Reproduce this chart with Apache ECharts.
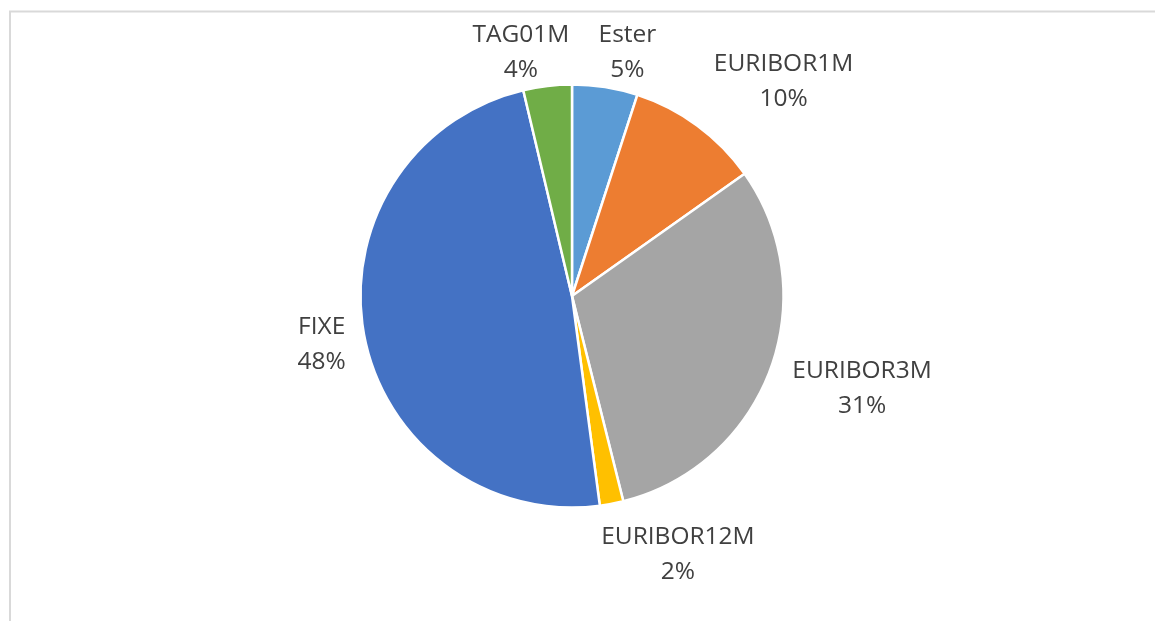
<!DOCTYPE html>
<html>
<head>
<meta charset="utf-8">
<script src="https://cdn.jsdelivr.net/npm/echarts@6/dist/echarts.min.js"></script>
<style>
  html, body { margin: 0; padding: 0; background: #fff; }
  #chart { width: 1155px; height: 621px; }
</style>
</head>
<body>
<div id="chart"></div>
<script>
// shares of each rate type, clockwise from 12 o'clock
const categories = ["Ester", "EURIBOR1M", "EURIBOR3M", "EURIBOR12M", "FIXE", "TAG01M"];
const shares = [5.0, 10.2, 30.9, 1.8, 48.4, 3.7];

const palette = ["#5B9BD5", "#ED7D31", "#A5A5A5", "#FFC000", "#4472C4", "#70AD47"];

const pieCenter = [572, 296];
const pieRadius = 211.5;
const labelGap = 16;
const plotTop = 18;

// mid angle of each slice, in radians, measured clockwise from the top
const total = shares.reduce((a, b) => a + b, 0);
let acc = 0;
const midAngles = shares.map(v => {
  const mid = (acc + v / 2) / total * Math.PI * 2;
  acc += v;
  return mid;
});

function clamp(v) {
  return Math.max(-1, Math.min(1, v));
}

const chart = echarts.init(document.getElementById("chart"));

const option = {
  animation: false,
  color: palette,
  graphic: [
    {
      type: "polyline",
      silent: true,
      shape: { points: [[10, 621], [10, 11.5], [1155, 11.5]] },
      style: { stroke: "#d9d9d9", lineWidth: 2, fill: null }
    }
  ],
  series: [
    {
      type: "pie",
      center: pieCenter,
      radius: pieRadius,
      startAngle: 90,
      clockwise: true,
      percentPrecision: 0,
      itemStyle: {
        borderColor: "#ffffff",
        borderWidth: 2.5
      },
      label: {
        show: true,
        position: "outside",
        formatter: "{b}\n{d}%",
        fontFamily: "Open Sans",
        fontSize: 24.5,
        lineHeight: 35,
        color: "#404040"
      },
      labelLine: { show: false },
      emphasis: { disabled: true },
      // place each label box just outside the rim, Excel-style
      labelLayout: function (params) {
        const a = midAngles[params.dataIndex];
        const s = Math.sin(a);
        const c = -Math.cos(a);
        const d = pieRadius + labelGap;
        const ax = pieCenter[0] + d * s;
        const ay = pieCenter[1] + d * c;
        const hw = params.labelRect.width / 2;
        const hh = params.labelRect.height / 2;
        let y = ay + hh * clamp(1.1 * c);
        if (y - hh < plotTop) y = plotTop + hh;
        return {
          x: ax + hw * 1.1 * clamp(4 * s),
          y: y,
          align: "center",
          verticalAlign: "middle"
        };
      },
      data: categories.map((name, i) => ({ name: name, value: shares[i] }))
    }
  ]
};

chart.setOption(option);
</script>
</body>
</html>
